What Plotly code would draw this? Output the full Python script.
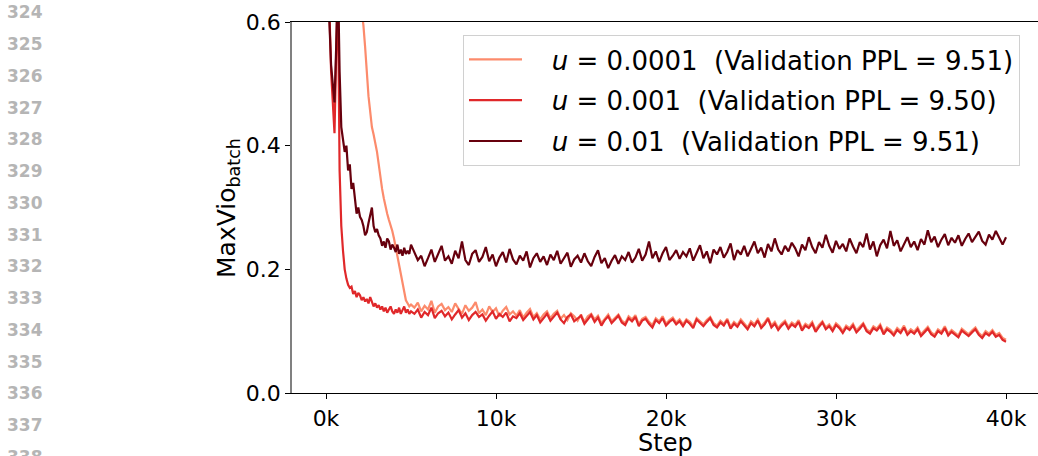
import plotly.graph_objects as go

# ---------------- data ----------------
line_numbers = [str(n) for n in range(324, 339)]

steps_early = list(range(0, 5001, 100))
steps_late = list(range(5200, 40001, 200))
steps = steps_early + steps_late

tick_vals_x = [0, 10000, 20000, 30000, 40000]
tick_text_x = ["0k", "10k", "20k", "30k", "40k"]
tick_vals_y = [0.0, 0.2, 0.4, 0.6]
tick_text_y = ["0.0", "0.2", "0.4", "0.6"]

labels = [
    "<i>u</i> = 0.0001  (Validation PPL = 9.51)",
    "<i>u</i> = 0.001  (Validation PPL = 9.50)",
    "<i>u</i> = 0.01  (Validation PPL = 9.51)",
]
colors = ["#fc8b6c", "#e0282a", "#67000d"]

u0001_early = [1.60, 1.52, 1.45, 1.38, 1.30, 1.24, 1.18, 1.12, 1.06, 1.01,
               0.96, 0.92, 0.88, 0.84, 0.80, 0.77, 0.74, 0.71, 0.68, 0.66,
               0.64, 0.62, 0.595, 0.56, 0.515, 0.48, 0.455, 0.43, 0.418, 0.405,
               0.39, 0.37, 0.345, 0.33, 0.315, 0.30, 0.29, 0.28, 0.272, 0.262,
               0.25, 0.235, 0.22, 0.205, 0.19, 0.175, 0.16, 0.15, 0.145, 0.14,
               0.143]
u0001_late = [0.138, 0.146, 0.132, 0.141, 0.135, 0.149, 0.130, 0.140, 0.144, 0.134,
              0.139, 0.131, 0.145, 0.136, 0.128, 0.142, 0.133, 0.138, 0.147, 0.129,
              0.135, 0.126, 0.140, 0.131, 0.137, 0.124, 0.133, 0.139, 0.127, 0.132,
              0.125, 0.134, 0.122, 0.130, 0.136, 0.123, 0.129, 0.119, 0.127, 0.132,
              0.121, 0.128, 0.133, 0.120, 0.126, 0.118, 0.129, 0.124, 0.117, 0.127,
              0.115, 0.124, 0.128, 0.119, 0.125, 0.113, 0.121, 0.127, 0.116, 0.122,
              0.127, 0.117, 0.113, 0.124, 0.119, 0.126, 0.111, 0.120, 0.123, 0.115,
              0.110, 0.121, 0.116, 0.124, 0.112, 0.118, 0.122, 0.114, 0.119, 0.111,
              0.119, 0.115, 0.108, 0.121, 0.116, 0.111, 0.118, 0.123, 0.113, 0.109,
              0.117, 0.112, 0.120, 0.107, 0.115, 0.110, 0.119, 0.113, 0.106, 0.116,
              0.111, 0.119, 0.108, 0.114, 0.122, 0.109, 0.115, 0.105, 0.112, 0.117,
              0.107, 0.114, 0.110, 0.118, 0.104, 0.112, 0.108, 0.115, 0.102, 0.110,
              0.116, 0.106, 0.111, 0.103, 0.113, 0.108, 0.100, 0.109, 0.105, 0.112,
              0.101, 0.107, 0.113, 0.103, 0.099, 0.108, 0.104, 0.111, 0.098, 0.106,
              0.102, 0.096, 0.105, 0.100, 0.109, 0.097, 0.103, 0.099, 0.106, 0.095,
              0.101, 0.107, 0.098, 0.094, 0.103, 0.099, 0.108, 0.096, 0.102, 0.097,
              0.093, 0.104, 0.099, 0.095, 0.101, 0.106, 0.097, 0.092, 0.100, 0.096,
              0.102, 0.094, 0.097, 0.089, 0.086]

u001_early = [0.95, 0.75, 0.62, 0.52, 0.46, 0.42, 0.55, 0.66, 0.36, 0.27,
              0.23, 0.20, 0.185, 0.175, 0.17, 0.172, 0.16, 0.165, 0.155, 0.162,
              0.158, 0.15, 0.155, 0.148, 0.152, 0.145, 0.155, 0.148, 0.14, 0.145,
              0.138, 0.142, 0.135, 0.14, 0.132, 0.138, 0.13, 0.135, 0.14, 0.132,
              0.128, 0.135, 0.13, 0.138, 0.128, 0.134, 0.14, 0.13, 0.135, 0.128,
              0.132]
u001_late = [0.128, 0.135, 0.122, 0.131, 0.126, 0.138, 0.121, 0.129, 0.133, 0.124,
             0.130, 0.119, 0.127, 0.134, 0.122, 0.129, 0.118, 0.126, 0.131, 0.123,
             0.127, 0.117, 0.125, 0.132, 0.120, 0.128, 0.123, 0.130, 0.116, 0.124,
             0.121, 0.129, 0.118, 0.125, 0.131, 0.119, 0.126, 0.114, 0.122, 0.128,
             0.117, 0.124, 0.130, 0.119, 0.113, 0.123, 0.127, 0.116, 0.121, 0.125,
             0.112, 0.120, 0.126, 0.115, 0.122, 0.109, 0.118, 0.124, 0.113, 0.119,
             0.125, 0.114, 0.110, 0.121, 0.116, 0.123, 0.108, 0.117, 0.120, 0.112,
             0.106, 0.118, 0.113, 0.121, 0.109, 0.115, 0.119, 0.111, 0.116, 0.108,
             0.117, 0.112, 0.105, 0.119, 0.113, 0.108, 0.115, 0.121, 0.110, 0.106,
             0.114, 0.109, 0.118, 0.104, 0.112, 0.107, 0.116, 0.110, 0.103, 0.113,
             0.108, 0.117, 0.105, 0.111, 0.120, 0.106, 0.112, 0.102, 0.109, 0.114,
             0.104, 0.111, 0.107, 0.115, 0.101, 0.109, 0.105, 0.112, 0.099, 0.107,
             0.114, 0.103, 0.108, 0.100, 0.110, 0.105, 0.097, 0.106, 0.102, 0.109,
             0.098, 0.104, 0.111, 0.100, 0.096, 0.105, 0.101, 0.108, 0.095, 0.103,
             0.099, 0.093, 0.102, 0.097, 0.106, 0.094, 0.100, 0.096, 0.103, 0.092,
             0.098, 0.104, 0.095, 0.091, 0.100, 0.096, 0.105, 0.093, 0.099, 0.094,
             0.090, 0.101, 0.096, 0.092, 0.098, 0.103, 0.094, 0.089, 0.097, 0.093,
             0.099, 0.091, 0.094, 0.086, 0.083]

u01_early = [0.95, 0.70, 0.60, 0.53, 0.50, 0.47, 0.56, 0.68, 0.52, 0.43,
             0.41, 0.39, 0.40, 0.36, 0.37, 0.33, 0.34, 0.31, 0.29, 0.30,
             0.285, 0.28, 0.27, 0.255, 0.26, 0.275, 0.29, 0.30, 0.27, 0.26,
             0.265, 0.255, 0.25, 0.238, 0.245, 0.235, 0.25, 0.245, 0.232, 0.24,
             0.235, 0.228, 0.24, 0.225, 0.232, 0.222, 0.235, 0.225, 0.23, 0.225,
             0.24]
u01_late = [0.228, 0.215, 0.222, 0.205, 0.218, 0.232, 0.212, 0.226, 0.238, 0.214,
            0.221, 0.209, 0.230, 0.218, 0.245, 0.215, 0.207, 0.225, 0.231, 0.212,
            0.220, 0.236, 0.213, 0.224, 0.205, 0.219, 0.228, 0.211, 0.233, 0.216,
            0.208, 0.222, 0.214, 0.229, 0.203, 0.218, 0.226, 0.212, 0.221, 0.207,
            0.224, 0.215, 0.230, 0.209, 0.219, 0.227, 0.204, 0.216, 0.222, 0.211,
            0.226, 0.213, 0.205, 0.220, 0.231, 0.210, 0.218, 0.202, 0.214, 0.223,
            0.209, 0.221, 0.215, 0.228, 0.211, 0.219, 0.233, 0.214, 0.224, 0.245,
            0.218, 0.229, 0.212, 0.226, 0.236, 0.215, 0.222, 0.231, 0.217, 0.228,
            0.221, 0.234, 0.214, 0.226, 0.239, 0.218, 0.229, 0.210, 0.232, 0.224,
            0.236, 0.219, 0.228, 0.242, 0.215, 0.231, 0.224, 0.238, 0.221, 0.233,
            0.245, 0.226, 0.235, 0.219, 0.241, 0.229, 0.250, 0.232, 0.224, 0.238,
            0.229, 0.243, 0.234, 0.221, 0.240, 0.231, 0.252, 0.236, 0.226, 0.244,
            0.235, 0.256, 0.238, 0.227, 0.246, 0.233, 0.241, 0.229, 0.250, 0.237,
            0.226, 0.244, 0.236, 0.258, 0.232, 0.245, 0.221, 0.239, 0.248, 0.234,
            0.262, 0.238, 0.247, 0.229, 0.241, 0.252, 0.236, 0.245, 0.231, 0.249,
            0.240, 0.263, 0.244, 0.253, 0.236, 0.248, 0.257, 0.239, 0.251, 0.243,
            0.255, 0.238, 0.249, 0.258, 0.244, 0.252, 0.261, 0.246, 0.240, 0.256,
            0.248, 0.262, 0.251, 0.240, 0.252]

series = [u0001_early + u0001_late, u001_early + u001_late, u01_early + u01_late]

# ---------------- figure ----------------
FONT = "DejaVu Sans"
W, H = 1038, 456
ML, MR, MT, MB = 292, 0, 22, 63
pw, ph = W - ML - MR, H - MT - MB
LEAD = "\u00a0\u00a0\u00a0"  # gap between legend line sample and its text

fig = go.Figure()
for i, (ys, lab, col) in enumerate(zip(series, labels, colors)):
    fig.add_trace(go.Scatter(
        x=steps, y=ys, mode="lines", name=LEAD + lab,
        line=dict(color=col, width=2.2), legendgroup=f"g{i}",
    ))

fig.update_layout(
    width=W, height=H,
    margin=dict(l=ML, r=MR, t=MT, b=MB),
    paper_bgcolor="white", plot_bgcolor="white",
    font=dict(family=FONT, size=22, color="black"),
    showlegend=True,
    legend=dict(
        x=(463 - ML) / pw, y=(393 - 35) / ph, xanchor="left", yanchor="top",
        bgcolor="rgba(255,255,255,0.85)", bordercolor="#d0d0d0", borderwidth=1,
        font=dict(family=FONT, size=26, color="black"),
        itemwidth=53, tracegroupgap=4,
    ),
)

fig.update_xaxes(
    range=[-2000, -2000 + pw * 10000 / 170],
    tickvals=tick_vals_x, ticktext=tick_text_x,
    showgrid=False, zeroline=False,
    showline=True, linecolor="black", linewidth=1.2, mirror=True,
    ticks="outside", ticklen=5, tickcolor="black",
    tickfont=dict(family=FONT, size=22, color="black"),
)
fig.update_yaxes(
    range=[0, 0.6],
    tickvals=tick_vals_y, ticktext=tick_text_y,
    showgrid=False, zeroline=False,
    showline=True, linecolor="#808080", linewidth=1.5,
    ticks="outside", ticklen=5, tickcolor="black",
    tickfont=dict(family=FONT, size=22, color="black"),
)

# axis titles
fig.add_annotation(text="Step", xref="paper", yref="paper",
                   x=(665 - ML) / pw, y=(393 - 443) / ph,
                   xanchor="center", yanchor="middle", showarrow=False,
                   font=dict(family=FONT, size=24, color="black"))
fig.add_annotation(text="MaxVio<sub>batch</sub>", xref="paper", yref="paper",
                   x=(228 - ML) / pw, y=(393 - 208) / ph, textangle=-90,
                   xanchor="center", yanchor="middle", showarrow=False,
                   font=dict(family=FONT, size=25, color="black"))

# page line numbers
for k, num in enumerate(line_numbers):
    ypx = 12.3 + 31.75 * k
    fig.add_annotation(text=f"<b>{num}</b>", xref="paper", yref="paper",
                       x=(5 - ML) / pw, y=(393 - ypx) / ph,
                       xanchor="left", yanchor="middle", showarrow=False,
                       font=dict(family="DejaVu Sans", size=17, color="#b5b5b5"))

fig.write_html("out.html", config={"displayModeBar": False},
               post_script="document.body.style.margin='0';")
